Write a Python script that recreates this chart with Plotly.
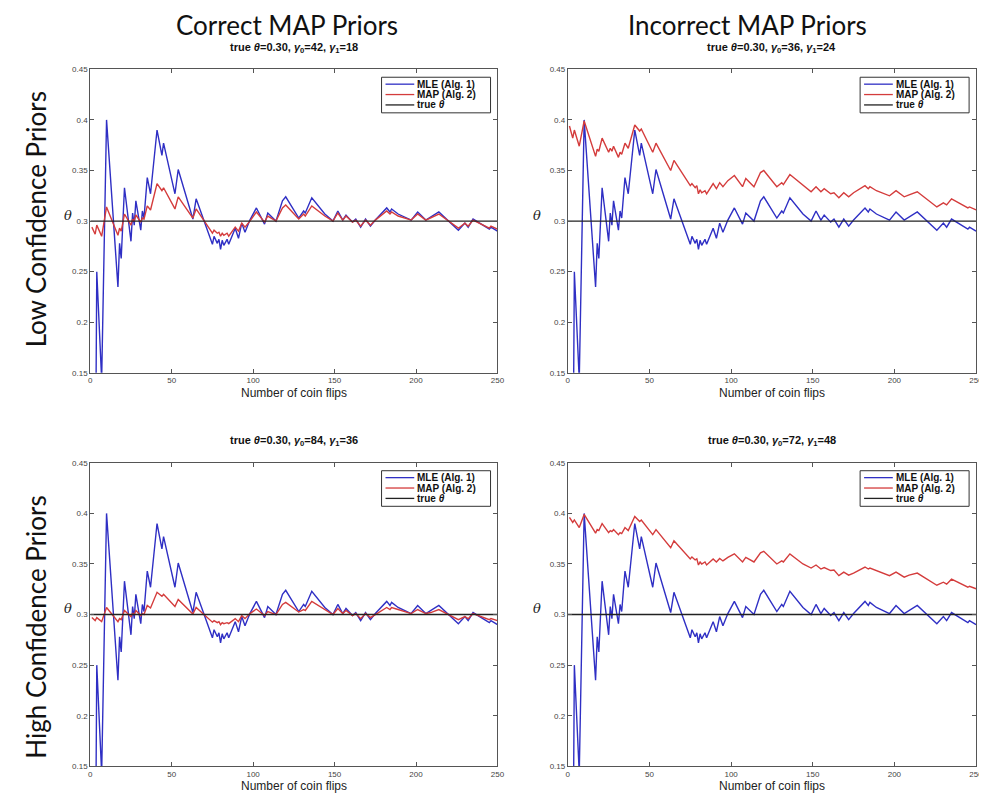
import plotly.graph_objects as go

W, H = 987, 799
OFF = 8  # default page body margin of the html file
FW, FH = W - OFF, H - OFF

# ---------------- data ----------------
flips = [1, 3, 4, 7, 10, 17, 18, 19, 21, 25, 26, 27, 28, 31, 32, 33, 35, 37, 41, 44, 45,
         52, 54, 63, 65, 75, 76, 78, 79, 80, 81, 82, 84, 85, 89, 91, 93, 95, 98,
         102, 107, 109, 114, 118, 120, 128, 131, 132, 136, 144, 149, 152, 155, 157,
         161, 163, 166, 169, 172, 175, 182, 184, 185, 189, 197, 201, 206, 209, 214,
         226, 230, 232, 235, 245, 246, 250]

mle = [0.0, 0.0, 0.25, 0.143, 0.40, 0.235, 0.278, 0.263, 0.333, 0.280, 0.308, 0.296, 0.320,
       0.291, 0.310, 0.303, 0.343, 0.327, 0.390, 0.365, 0.377, 0.327, 0.351, 0.302, 0.322,
       0.277, 0.285, 0.278, 0.282, 0.272, 0.281, 0.276, 0.282, 0.277, 0.293, 0.283, 0.298,
       0.289, 0.301, 0.313, 0.297, 0.308, 0.300, 0.320, 0.324, 0.303, 0.310, 0.308, 0.323,
       0.307, 0.300, 0.310, 0.301, 0.306, 0.299, 0.302, 0.294, 0.302, 0.295, 0.301, 0.313,
       0.309, 0.312, 0.307, 0.301, 0.309, 0.301, 0.304, 0.309, 0.291, 0.298, 0.294, 0.302,
       0.292, 0.294, 0.290]

map_low_correct = [0.294, 0.287, 0.296, 0.285, 0.314, 0.286, 0.293, 0.290, 0.307, 0.296, 0.302,
                   0.300, 0.306, 0.299, 0.303, 0.302, 0.315, 0.311, 0.337, 0.330, 0.333, 0.312,
                   0.324, 0.303, 0.312, 0.288, 0.291, 0.288, 0.289, 0.285, 0.288, 0.286, 0.288,
                   0.285, 0.294, 0.290, 0.298, 0.294, 0.300, 0.309, 0.299, 0.305, 0.300, 0.313,
                   0.316, 0.302, 0.307, 0.305, 0.315, 0.305, 0.300, 0.308, 0.301, 0.305, 0.299,
                   0.301, 0.295, 0.301, 0.296, 0.301, 0.310, 0.307, 0.309, 0.305, 0.301, 0.307,
                   0.301, 0.303, 0.307, 0.293, 0.298, 0.295, 0.301, 0.293, 0.295, 0.292]

map_low_incorrect = [0.394, 0.382, 0.390, 0.374, 0.399, 0.364, 0.371, 0.369, 0.382, 0.368, 0.372,
                     0.369, 0.374, 0.363, 0.368, 0.366, 0.377, 0.372, 0.395, 0.389, 0.391, 0.368,
                     0.377, 0.350, 0.360, 0.335, 0.337, 0.333, 0.335, 0.327, 0.331, 0.328, 0.330,
                     0.327, 0.337, 0.332, 0.338, 0.334, 0.340, 0.345, 0.334, 0.342, 0.334, 0.348,
                     0.350, 0.334, 0.338, 0.336, 0.346, 0.335, 0.329, 0.334, 0.329, 0.332, 0.327,
                     0.328, 0.323, 0.328, 0.324, 0.328, 0.335, 0.332, 0.334, 0.330, 0.325, 0.330,
                     0.324, 0.326, 0.329, 0.314, 0.318, 0.316, 0.322, 0.313, 0.314, 0.311]

map_high_correct = [0.297, 0.294, 0.297, 0.293, 0.307, 0.293, 0.296, 0.295, 0.304, 0.298, 0.301,
                    0.300, 0.304, 0.299, 0.301, 0.300, 0.309, 0.3065, 0.322, 0.318, 0.320, 0.308,
                    0.315, 0.3005, 0.307, 0.2925, 0.294, 0.292, 0.293, 0.290, 0.292, 0.291, 0.292,
                    0.291, 0.296, 0.293, 0.299, 0.296, 0.301, 0.3055, 0.299, 0.303, 0.300, 0.310,
                    0.312, 0.3025, 0.305, 0.304, 0.313, 0.3045, 0.300, 0.306, 0.301, 0.304, 0.299,
                    0.301, 0.296, 0.301, 0.297, 0.300, 0.307, 0.305, 0.307, 0.305, 0.301, 0.305,
                    0.301, 0.302, 0.305, 0.295, 0.298, 0.296, 0.301, 0.295, 0.296, 0.294]

map_high_incorrect = [0.396, 0.391, 0.3935, 0.386, 0.399, 0.3805, 0.384, 0.383, 0.390, 0.381, 0.383,
                      0.382, 0.384, 0.379, 0.381, 0.380, 0.386, 0.383, 0.397, 0.392, 0.3935, 0.379,
                      0.384, 0.366, 0.373, 0.355, 0.357, 0.354, 0.355, 0.349, 0.352, 0.350, 0.352,
                      0.349, 0.355, 0.352, 0.3555, 0.353, 0.3565, 0.360, 0.352, 0.3565, 0.352, 0.361,
                      0.3625, 0.350, 0.353, 0.352, 0.360, 0.350, 0.346, 0.349, 0.345, 0.3465, 0.3435,
                      0.344, 0.3385, 0.342, 0.339, 0.341, 0.347, 0.345, 0.346, 0.3435, 0.3385, 0.342,
                      0.337, 0.339, 0.341, 0.329, 0.332, 0.330, 0.335, 0.327, 0.328, 0.3255]

true_theta = 0.30
gamma0 = [42, 36, 84, 72]
gamma1 = [18, 24, 36, 48]
col_titles = ["Correct MAP Priors", "Incorrect MAP Priors"]
row_titles = ["Low Confidence Priors", "High Confidence Priors"]
x_ticks = [0, 50, 100, 150, 200, 250]
y_ticks = [0.15, 0.2, 0.25, 0.3, 0.35, 0.4, 0.45]
y_ticklabels = ["0.15", "0.2", "0.25", "0.3", "0.35", "0.4", "0.45"]
legend_labels = ["MLE (Alg. 1)", "MAP (Alg. 2)", "true <i>θ</i>"]
x_title = "Number of coin flips"

map_series = [map_low_correct, map_low_incorrect, map_high_correct, map_high_incorrect]

# ---------------- styling / layout ----------------
BLUE = "#2f2fc4"
RED = "#d43c3c"
BLACK = "#222222"
AXC = "#555555"
FONT = "Liberation Sans, Arial, sans-serif"
LW = 1.4

# panel boxes in window pixels: left, right, top, bottom
panels = [(89, 500, 66, 373), (571, 983, 66, 373), (89, 500, 464, 771), (571, 983, 464, 771)]
theta_gap = [22, 31, 22, 31]


def px(x):
    return (x - OFF) / FW


def py(y):
    return 1 - (y - OFF) / FH


fig = go.Figure()
annotations = []
shapes = []

for i, (l, r, t, b) in enumerate(panels):
    k = "" if i == 0 else str(i + 1)
    xa, ya = "x" + k, "y" + k
    fig.add_trace(go.Scatter(x=flips, y=mle, mode="lines", line=dict(color=BLUE, width=LW),
                             xaxis=xa, yaxis=ya, showlegend=False, name=legend_labels[0]))
    fig.add_trace(go.Scatter(x=flips, y=map_series[i], mode="lines", line=dict(color=RED, width=LW),
                             xaxis=xa, yaxis=ya, showlegend=False, name=legend_labels[1]))
    fig.add_trace(go.Scatter(x=[x_ticks[0], x_ticks[-1]], y=[true_theta, true_theta], mode="lines",
                             line=dict(color=BLACK, width=LW), xaxis=xa, yaxis=ya,
                             showlegend=False, name="true θ"))

    axis_common = dict(showline=True, mirror="ticks", linecolor=AXC, linewidth=1,
                       ticks="inside", ticklen=4, tickcolor=AXC, showgrid=False, zeroline=False,
                       tickfont=dict(family=FONT, size=8, color="#444444"))
    fig.layout["xaxis" + k] = dict(domain=[px(l), px(r)], range=[0, 250], anchor=ya,
                                   tickvals=x_ticks, **axis_common)
    fig.layout["yaxis" + k] = dict(domain=[py(b), py(t)], range=[0.15, 0.45], anchor=xa,
                                   tickvals=y_ticks, ticktext=y_ticklabels, **axis_common)

    cx = (l + r) / 2
    # subplot subtitle
    annotations.append(dict(
        text="<b>true <i>θ</i>=0.30, <i>γ</i><sub>0</sub>=%d, <i>γ</i><sub>1</sub>=%d</b>" % (gamma0[i], gamma1[i]),
        x=px(cx), y=py(t - 22), xref="paper", yref="paper", showarrow=False,
        font=dict(family=FONT, size=11, color="#111111"), xanchor="center", yanchor="middle"))
    # x axis title
    annotations.append(dict(text=x_title, x=px(cx), y=py(b + 20), xref="paper", yref="paper",
                            showarrow=False, font=dict(family=FONT, size=12, color="#222222"),
                            xanchor="center", yanchor="middle"))
    # y axis title
    annotations.append(dict(text="<i>θ</i>", x=px(l - theta_gap[i]), y=py((t + b) / 2 - 6), xref="paper",
                            yref="paper", showarrow=False,
                            font=dict(family="DejaVu Serif, serif", size=13, color="#222222"),
                            xanchor="center", yanchor="middle"))

    # legend box
    lr = r - 7
    ll = lr - 110
    lt = t + 8
    lb = lt + 36
    shapes.append(dict(type="rect", xref="paper", yref="paper", x0=px(ll), x1=px(lr), y0=py(lb), y1=py(lt),
                       line=dict(color="#333333", width=1), fillcolor="white", layer="above"))
    for j, (lab, col) in enumerate(zip(legend_labels, [BLUE, RED, BLACK])):
        yy = lt + 7 + j * 10.5
        shapes.append(dict(type="line", xref="paper", yref="paper", x0=px(ll + 4), x1=px(ll + 33),
                           y0=py(yy), y1=py(yy), line=dict(color=col, width=1.3), layer="above"))
        annotations.append(dict(text="<b>%s</b>" % lab, x=px(ll + 34), y=py(yy), xref="paper", yref="paper",
                                showarrow=False, font=dict(family=FONT, size=10, color="#111111"),
                                xanchor="left", yanchor="middle"))

# column titles
for txt, cx in zip(col_titles, [288, 752]):
    annotations.append(dict(text=txt, x=px(cx), y=py(21), xref="paper", yref="paper", showarrow=False,
                            font=dict(family="Lato, Open Sans, sans-serif", size=26, color="#111111"),
                            xanchor="center", yanchor="middle"))
# row titles
for txt, cy in zip(row_titles, [218, 630]):
    annotations.append(dict(text=txt, x=px(34), y=py(cy), xref="paper", yref="paper", showarrow=False,
                            textangle=-90,
                            font=dict(family="Lato, Open Sans, sans-serif", size=26, color="#111111"),
                            xanchor="center", yanchor="middle"))

fig.update_layout(width=FW, height=FH, margin=dict(l=0, r=0, t=0, b=0),
                  paper_bgcolor="white", plot_bgcolor="white", showlegend=False,
                  annotations=annotations, shapes=shapes)

fig.write_html("out.html")
